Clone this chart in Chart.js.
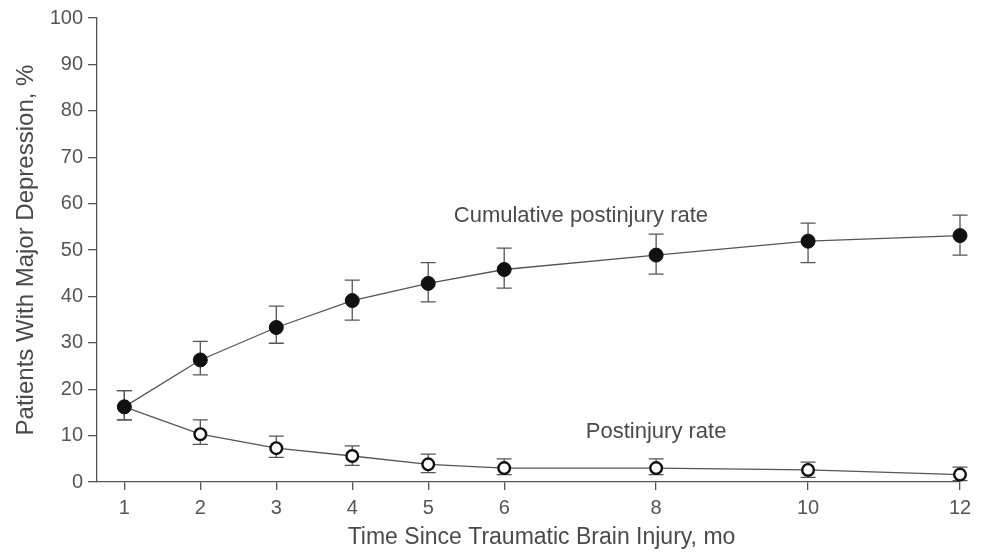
<!DOCTYPE html>
<html>
<head>
<meta charset="utf-8">
<script src="https://cdn.jsdelivr.net/npm/chart.js@4/dist/chart.umd.min.js"></script>
<style>
  html, body { margin: 0; padding: 0; background: #fff; }
  #wrap { width: 983px; height: 552px; }
</style>
</head>
<body>
<div id="wrap"><canvas id="c" width="983" height="552"></canvas></div>
<script>
// Months after injury
const months = [1, 2, 3, 4, 5, 6, 8, 10, 12];

// Cumulative postinjury rate (%) with 95% CI bounds
const cumulativeRate = [16.2, 26.3, 33.3, 39.1, 42.8, 45.8, 48.9, 51.9, 53.1];
const cumulativeLow  = [13.4, 23.1, 29.9, 34.9, 38.8, 41.8, 44.8, 47.3, 48.9];
const cumulativeHigh = [19.7, 30.3, 37.9, 43.5, 47.3, 50.4, 53.4, 55.8, 57.5];

// Point postinjury rate (%) with 95% CI bounds
const postRate = [16.2, 10.3, 7.3, 5.6, 3.8, 3.0, 3.0, 2.6, 1.6];
const postLow  = [13.4, 8.1, 5.3, 3.6, 2.0, 1.6, 1.6, 1.0, 0.3];
const postHigh = [19.7, 13.4, 9.9, 7.8, 6.0, 5.0, 5.0, 4.3, 3.2];

const yTicks = [0, 10, 20, 30, 40, 50, 60, 70, 80, 90, 100];

// Series labels placed inside the plot
const seriesLabels = [
  { text: 'Cumulative postinjury rate', x: 7.01, y: 57.3 },
  { text: 'Postinjury rate', x: 8.0, y: 10.8 }
];

const xTitle = 'Time Since Traumatic Brain Injury, mo';
const yTitle = 'Patients With Major Depression, %';

const FONT = '"Liberation Sans", Arial, sans-serif';
const INK = '#555';
const TEXT = '#4a4a4a';

const toXY = (vals) => months.map((m, i) => ({ x: m, y: vals[i] }));

// Vertical whiskers with caps, drawn under the markers
const errorBars = {
  id: 'errorBars',
  beforeDatasetsDraw(chart) {
    const { ctx, scales: { x, y } } = chart;
    const sets = [[cumulativeLow, cumulativeHigh], [postLow, postHigh]];
    ctx.save();
    ctx.strokeStyle = INK;
    ctx.lineWidth = 1.3;
    const cap = 7.5;
    sets.forEach(([lo, hi]) => {
      months.forEach((m, i) => {
        const px = x.getPixelForValue(m);
        const top = y.getPixelForValue(hi[i]);
        const bot = y.getPixelForValue(lo[i]);
        ctx.beginPath();
        ctx.moveTo(px, top); ctx.lineTo(px, bot);
        ctx.moveTo(px - cap, top); ctx.lineTo(px + cap, top);
        ctx.moveTo(px - cap, bot); ctx.lineTo(px + cap, bot);
        ctx.stroke();
      });
    });
    ctx.restore();
  }
};

// Text labels next to each curve, plus the horizontal axis title
const curveLabels = {
  id: 'curveLabels',
  afterDatasetsDraw(chart) {
    const { ctx, chartArea, scales: { x, y } } = chart;
    ctx.save();
    ctx.fillStyle = TEXT;
    ctx.textAlign = 'center';
    ctx.textBaseline = 'middle';
    ctx.font = '22px ' + FONT;
    seriesLabels.forEach(l => {
      ctx.fillText(l.text, x.getPixelForValue(l.x), y.getPixelForValue(l.y));
    });
    ctx.font = '23px ' + FONT;
    ctx.fillText(xTitle, (chartArea.left + chartArea.right) / 2 + 13, chart.height - 14);
    ctx.restore();
  }
};

new Chart(document.getElementById('c'), {
  type: 'line',
  data: {
    datasets: [
      {
        label: 'Cumulative postinjury rate',
        data: toXY(cumulativeRate),
        borderColor: INK,
        borderWidth: 1.3,
        pointRadius: 7,
        pointHoverRadius: 7,
        pointBackgroundColor: '#111',
        pointBorderColor: '#111',
        pointBorderWidth: 1,
        tension: 0,
        clip: false,
        order: 0
      },
      {
        label: 'Postinjury rate',
        data: toXY(postRate),
        borderColor: INK,
        borderWidth: 1.3,
        pointRadius: 5.8,
        pointHoverRadius: 5.8,
        pointBackgroundColor: '#fff',
        pointBorderColor: '#111',
        pointBorderWidth: 2.4,
        tension: 0,
        clip: false,
        order: 1
      }
    ]
  },
  options: {
    responsive: false,
    animation: false,
    layout: { padding: { top: 18, right: 23, left: 0, bottom: 0 } },
    plugins: {
      legend: { display: false },
      tooltip: { enabled: false }
    },
    scales: {
      x: {
        type: 'linear',
        min: 0.64,
        max: 12,
        afterBuildTicks: (s) => { s.ticks = months.map(v => ({ value: v })); },
        afterFit: (s) => { s.height = 70; },
        border: { display: true, color: INK, width: 1.3 },
        grid: { drawOnChartArea: false, drawTicks: true, tickLength: 8, color: INK, lineWidth: 1.3 },
        ticks: { color: INK, font: { family: FONT, size: 20 }, padding: 6, maxRotation: 0, autoSkip: false }
      },
      y: {
        min: 0,
        max: 100,
        afterBuildTicks: (s) => { s.ticks = yTicks.map(v => ({ value: v })); },
        afterFit: (s) => { s.width = 97; },
        border: { display: true, color: INK, width: 1.3 },
        grid: { drawOnChartArea: false, drawTicks: true, tickLength: 9, color: INK, lineWidth: 1.3 },
        ticks: { color: INK, font: { family: FONT, size: 20 }, padding: 5 },
        title: { display: true, text: yTitle, color: TEXT, font: { family: FONT, size: 24 }, padding: { top: 12, bottom: 0 } }
      }
    }
  },
  plugins: [errorBars, curveLabels]
});
</script>
</body>
</html>
